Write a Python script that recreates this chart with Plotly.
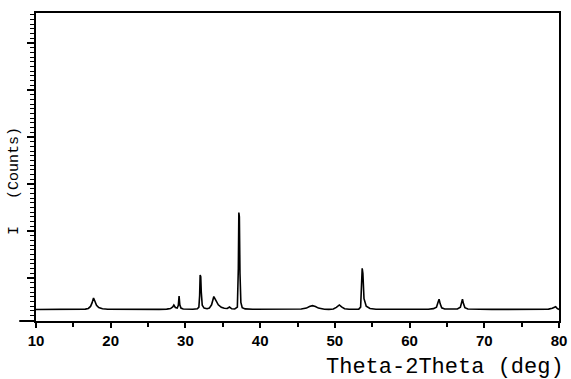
import plotly.graph_objects as go

# 2-theta (deg) and intensity (counts)
two_theta = [
    10.0, 11.5, 13.0, 14.5, 16.0, 16.6, 17.0, 17.3, 17.5, 17.7, 17.9, 18.1, 18.4, 18.9, 19.6,
    21.0, 23.0, 25.0, 26.5, 27.5, 28.0, 28.3, 28.45, 28.65, 28.9, 29.05, 29.15, 29.25, 29.4, 29.7,
    30.3, 31.0, 31.6, 31.8, 31.9, 31.97, 32.05, 32.12, 32.25, 32.5, 32.9, 33.2, 33.5, 33.8,
    34.1, 34.4, 34.8, 35.2, 35.6, 35.9, 36.2, 36.6, 36.95, 37.08, 37.15, 37.22, 37.3, 37.42,
    37.6, 38.0, 39.0, 41.0, 43.0, 44.5, 45.5, 46.2, 46.6, 47.0, 47.4, 47.8, 48.1, 48.3, 48.6,
    49.2, 49.8, 50.2, 50.6, 50.9, 51.3, 51.9, 52.6, 53.2, 53.45, 53.58, 53.66, 53.75, 53.9,
    54.2, 54.7, 55.5, 57.0, 59.0, 61.0, 62.5, 63.2, 63.6, 63.8, 63.95, 64.1, 64.3, 64.7,
    65.5, 66.4, 66.8, 66.95, 67.08, 67.2, 67.4, 67.8, 69.0, 71.0, 73.0, 75.0, 77.0, 78.6,
    79.1, 79.35, 79.55, 79.75, 80.0,
]
intensity = [
    330, 331, 329, 331, 332, 338, 352, 395, 470, 574, 500, 420, 370, 345, 335,
    332, 333, 331, 333, 338, 350, 385, 426, 372, 360, 420, 617, 430, 360, 340,
    333, 334, 345, 380, 620, 1064, 1030, 700, 420, 360, 345, 360, 430, 606,
    520, 430, 375, 355, 352, 383, 345, 340, 380, 1200, 2394, 2300, 1100, 480,
    370, 342, 334, 332, 332, 333, 340, 360, 395, 411, 395, 360, 345, 347, 336,
    332, 340, 375, 426, 385, 345, 335, 333, 338, 380, 800, 1206, 1100, 560,
    400, 350, 336, 333, 332, 333, 336, 348, 380, 480, 547, 450, 365, 340,
    334, 340, 380, 470, 547, 460, 370, 340, 333, 332, 332, 333, 333, 338,
    355, 385, 390, 355, 330,
]

x_ticks = [10, 20, 30, 40, 50, 60, 70, 80]
x_title = "Theta-2Theta (deg)"
y_title = "I   (Counts)"

fig = go.Figure()
fig.add_trace(go.Scatter(
    x=two_theta, y=intensity, mode="lines",
    line=dict(color="black", width=1.6),
    hoverinfo="skip", showlegend=False,
))

fig.update_layout(
    width=571, height=379, autosize=False,
    margin=dict(l=36, r=12, t=13, b=58),
    paper_bgcolor="white", plot_bgcolor="white",
    xaxis=dict(
        range=[10, 80], tickvals=x_ticks, ticktext=[str(v) for v in x_ticks],
        automargin=False, ticklabeloverflow="allow",
        showgrid=False, zeroline=False,
        showline=True, linecolor="black", linewidth=2, mirror=True,
        ticks="outside", ticklen=5, tickwidth=2, tickcolor="black",
        minor=dict(ticks="outside", ticklen=4, tickwidth=2, dtick=5, tick0=0, tickcolor="black"),
        tickfont=dict(family="Liberation Sans, Arial, sans-serif", size=15, color="black", weight="bold"),
        ticklabelstandoff=0,
    ),
    yaxis=dict(
        range=[85, 6640], dtick=1000, tick0=0, automargin=False,
        showgrid=False, zeroline=False, showticklabels=False,
        showline=True, linecolor="black", linewidth=2, mirror=True,
        ticks="outside", ticklen=7, tickwidth=1.5, tickcolor="black",
        minor=dict(ticks="outside", ticklen=4, tickwidth=1, dtick=100, tickcolor="black"),
    ),
    annotations=[
        dict(text=x_title, xref="paper", yref="paper", x=1.013, y=-0.15,
             xanchor="right", yanchor="middle", showarrow=False,
             font=dict(family="Courier New, Liberation Mono, monospace", size=22, color="black")),
        dict(text=y_title, xref="paper", yref="paper", x=-0.04, y=0.455,
             xanchor="center", yanchor="middle", showarrow=False, textangle=-90,
             font=dict(family="Courier New, Liberation Mono, monospace", size=15, color="black")),
    ],
    shapes=[
        dict(type="line", xref="paper", yref="paper", x0=-0.032, x1=0, y0=0, y1=0,
             line=dict(color="black", width=2)),
    ],
)

post = (
    "document.documentElement.style.margin='0';"
    "document.documentElement.style.overflow='hidden';"
    "document.body.style.margin='0';"
    "document.body.style.overflow='hidden';"
)

fig.write_html(
    "out.html",
    config={"displayModeBar": False},
    post_script=post,
)
